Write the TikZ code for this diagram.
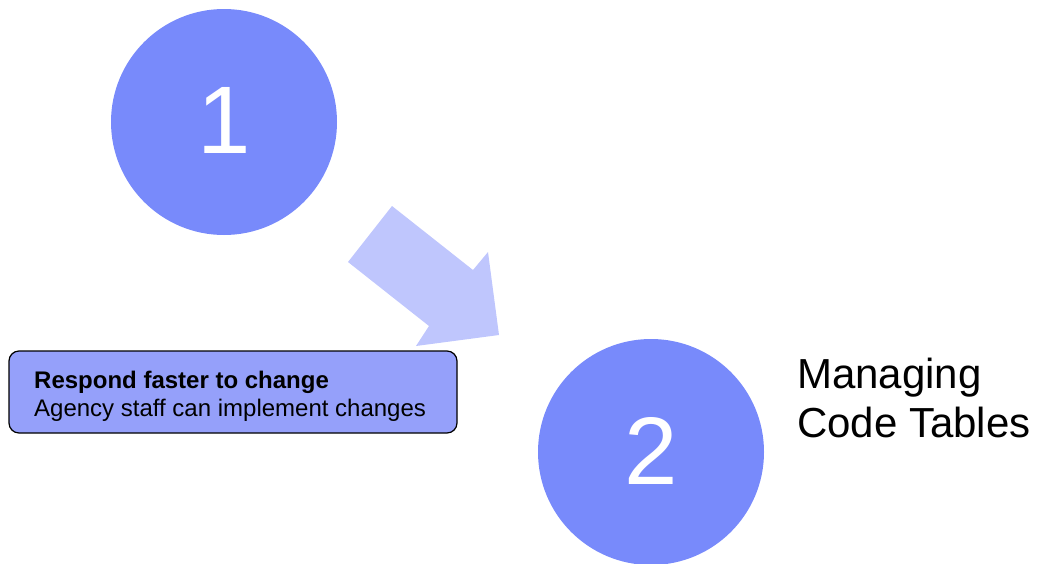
\documentclass[tikz,border=0pt]{standalone}
\usepackage{fontspec}
\setmainfont{Liberation Sans}
\usepackage{tikz}
\usetikzlibrary{positioning}
\definecolor{ballblue}{RGB}{120,138,251}
\definecolor{arrowblue}{RGB}{191,198,253}
\definecolor{noteblue}{RGB}{149,160,250}

\begin{document}
\begin{tikzpicture}[x=1pt,y=-1pt,
    bubble/.style={circle,fill=ballblue,minimum size=226pt,inner sep=0pt,text=white,font=\fontsize{96}{96}\selectfont},
    notebox/.style={draw=black,line width=1.2pt,fill=noteblue,rounded corners=10pt,minimum width=448pt,minimum height=82pt},
    txt/.style={anchor=base west,inner sep=0pt}]
        \useasboundingbox (0,0) rectangle (1037,563);
        \fill[arrowblue] (392,206) -- (473,270) -- (488,252) -- (499,335) -- (416,346) -- (429,326) -- (348,262) -- cycle;
        \node[bubble] (one) at (224,122) {\raisebox{3pt}{1}};
        \node[bubble] (two) at (651,452) {\raisebox{3pt}{2}};
        \node[notebox] (note) at (233,392) {};
        \node[txt,font=\fontsize{24}{28}\selectfont\bfseries] (head) at (34,388) {Respond faster to change};
        \node[txt,font=\fontsize{24}{28}\selectfont] (body) at (34,416) {Agency staff can implement changes};
        \node[txt,font=\fontsize{42}{48}\selectfont] (title) at (797,388) {Managing};
        \node[txt,font=\fontsize{42}{48}\selectfont] (title2) at (797,437) {Code Tables};
    \end{tikzpicture}
\end{document}
